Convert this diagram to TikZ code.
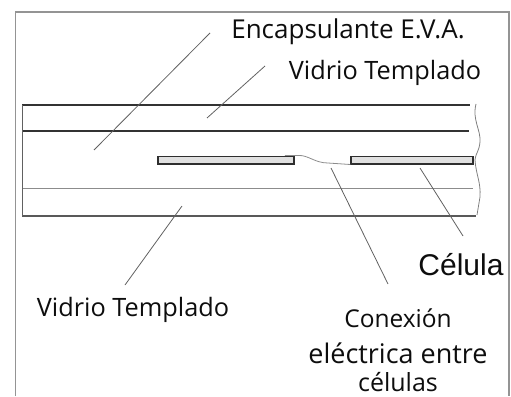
\documentclass[tikz,border=0pt]{standalone}
\usepackage{fontspec}
\setmainfont{Open Sans}
\newfontfamily\celfont{Liberation Sans}
\tikzset{
  frameline/.style={draw=black!42,line width=1.1pt},
  layerline/.style={draw=black!80,line width=1.4pt},
  thinlayer/.style={draw=black!45,line width=1.1pt},
  sideline/.style={draw=black!62,line width=1pt},
  leader/.style={draw=black!62,line width=0.8pt},
  cellbox/.style={draw=black!82,line width=1.5pt,fill=black!12,inner sep=0pt},
  breakline/.style={draw=black!50,line width=0.8pt},
  lbl/.style={text=black!95,inner sep=0pt,anchor=base}
}
\begin{document}
\begin{tikzpicture}[x=1pt,y=-1pt]
\useasboundingbox (0,0) rectangle (511,396);
\begin{scope}
\clip (0,0) rectangle (511,396);
\draw[frameline] (15.5,396) -- (15.5,12) -- (509,12) -- (509,396);
% layers
\draw[layerline] (22,105) -- (470,105);
\draw[layerline] (22,131) -- (469,131);
\draw[thinlayer] (22,188.5) -- (473,188.5);
\draw[thinlayer,draw=black!65,line width=1.4pt] (22,216) -- (476,216);
\draw[sideline] (22,105) -- (22,216);
% break line
\draw[breakline] (476,104) .. controls (472,120) and (481,130) .. (480,142) .. controls (479,152) and (476,152) .. (475,160) .. controls (476,175) and (481,182) .. (480,197) -- (477,215);
% cells
\node[cellbox,minimum width=136pt,minimum height=7.5pt] (cellA) at (226,160) {};
\node[cellbox,minimum width=122pt,minimum height=7.5pt] (cellB) at (412,160) {};
% wire
\draw[thinlayer,line width=0.8pt] (cellA.north east) ++(-10,0) -- ++(14,0) .. controls (308,155) and (315,163) .. (328,163) -- (cellB.south west);
% labels
\node[lbl,font=\fontsize{26}{26}\selectfont] (eva) at (348,38) {Encapsulante E.V.A.};
\node[lbl,font=\fontsize{25.3}{25}\selectfont] (vt1) at (385,79) {Vidrio Templado};
\node[lbl,font=\celfont\fontsize{30}{30}\selectfont] (cel) at (461,275) {Célula};
\node[lbl,font=\fontsize{25.3}{25}\selectfont] (vt2) at (133,316) {Vidrio Templado};
\node[lbl,font=\fontsize{24.5}{24}\selectfont] (cx1) at (398,327) {Conexión};
\node[lbl,font=\fontsize{27}{27}\selectfont] (cx2) at (398,363) {eléctrica entre};
\node[lbl,font=\fontsize{25}{25}\selectfont] (cx3) at (398,391) {células};
% leaders
\coordinate (a1) at (210,33); \coordinate (a2) at (94,150);
\coordinate (b1) at (265,66); \coordinate (b2) at (207,118);
\coordinate (c1) at (331,168); \coordinate (c2) at (388,284);
\coordinate (d1) at (420,168); \coordinate (d2) at (463,236);
\coordinate (e1) at (182,206); \coordinate (e2) at (125,285);
\draw[leader] (a1) -- (a2);
\draw[leader] (b1) -- (b2);
\draw[leader] (c1) -- (c2);
\draw[leader] (d1) -- (d2);
\draw[leader] (e1) -- (e2);
\end{scope}
\end{tikzpicture}
\end{document}
